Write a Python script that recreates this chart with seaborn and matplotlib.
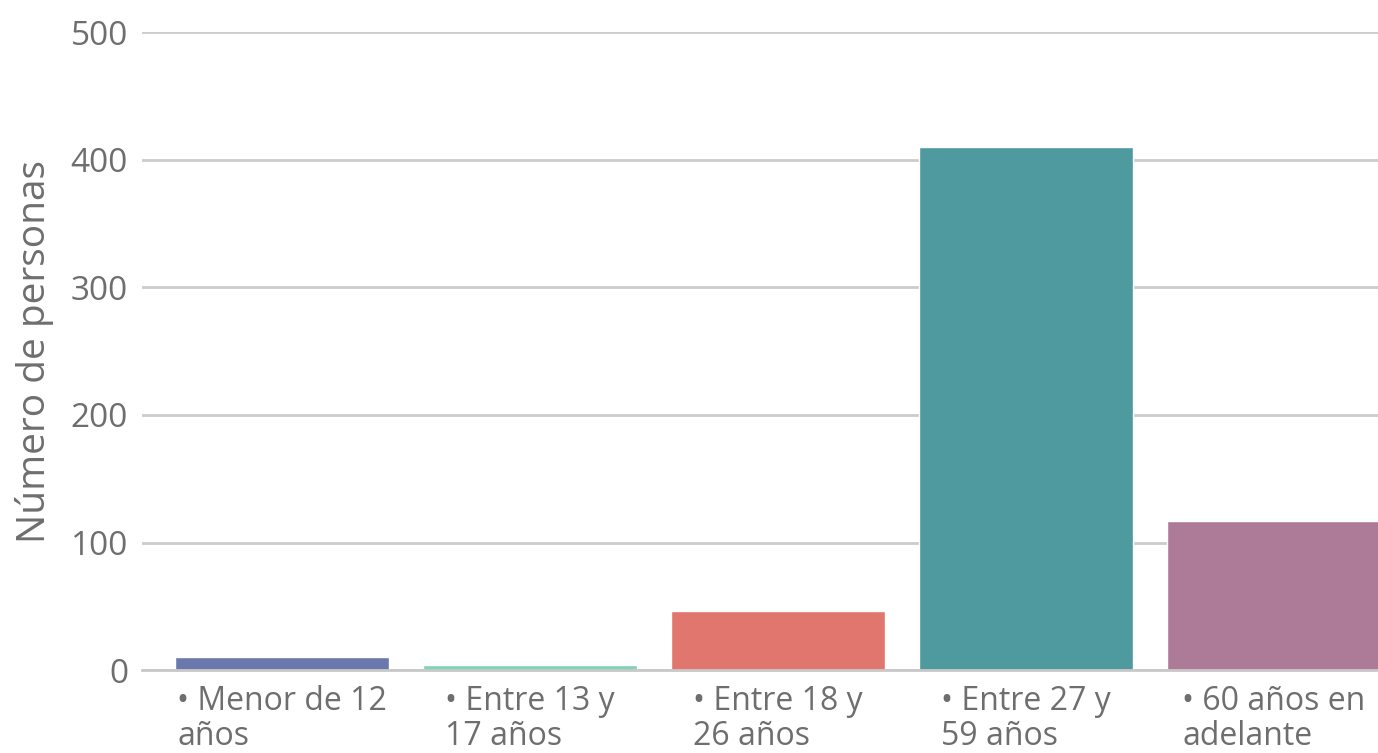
import numpy as np
import matplotlib.pyplot as plt
import seaborn as sns
import pandas as pd

# Data
categorias = ['• Menor de 12\naños', '• Entre 13 y\n17 años', '• Entre 18 y\n26 años',
              '• Entre 27 y\n59 años', '• 60 años en\nadelante']
personas = [10, 4, 46, 410, 117]
colores = ['#6b78ad', '#80d3b5', '#e0766d', '#4e9a9e', '#ad7b97']

sns.set_style("white")
plt.rcParams['font.family'] = ['Open Sans', 'DejaVu Sans']

gris = '#6e6e6e'
df = pd.DataFrame({'categoria': categorias, 'personas': personas})

fig = plt.figure(figsize=(13.78, 7.53), dpi=100)
ax = fig.add_axes([0.103, 0.110, 0.897, 0.8475])

sns.barplot(data=df, x='categoria', y='personas', hue='categoria', palette=colores,
            width=0.86, legend=False, saturation=1, ax=ax, zorder=3)

ax.set_ylim(0, 500)
ax.set_xlim(-0.565, 4.42)
ax.set_yticks(range(0, 501, 100))
ax.yaxis.grid(True, color='#cccccc', linewidth=2, zorder=0)
ax.set_axisbelow(True)

for s in ['top', 'right', 'left']:
    ax.spines[s].set_visible(False)
ax.spines['bottom'].set_color('#c8c8c8')
ax.spines['bottom'].set_linewidth(2)
ax.spines['bottom'].set_zorder(4)

ax.tick_params(axis='y', length=0, pad=10, labelsize=24, labelcolor=gris)
ax.tick_params(axis='x', length=8, width=1.5, color='#c8c8c8', pad=3,
               labelsize=23, labelcolor=gris)
for lbl in ax.get_xticklabels():
    lbl.set_multialignment('left')
    lbl.set_linespacing(1.05)

ax.set_xlabel('')
ax.set_ylabel('Número de personas', fontsize=28, color=gris)
ax.yaxis.set_label_coords(-0.071, 0.5)

fig.savefig('out.png', dpi=100)
